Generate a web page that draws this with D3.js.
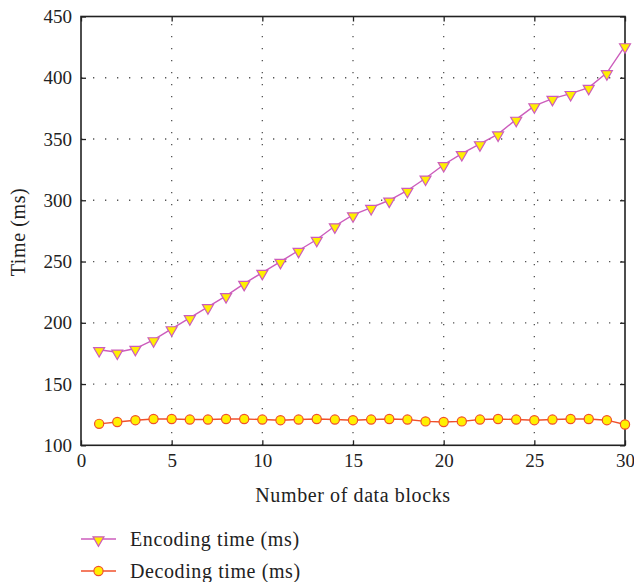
<!DOCTYPE html>
<html>
<head>
<meta charset="utf-8">
<script src="https://cdn.jsdelivr.net/npm/d3@7"></script>
<style>
  body { margin: 0; background: #fff; }
</style>
</head>
<body>
<div id="chart"></div>
<script>
const blocks = d3.range(1, 31);
const encodingTime = [178, 176, 179, 186, 195, 204, 213, 222, 232, 241,
                      250, 259, 268, 279, 288, 294, 300, 308, 318, 329,
                      338, 346, 354, 366, 377, 383, 387, 392, 404, 426];
const decodingTime = [117.5, 119, 120.5, 121.5, 121.5, 121, 121, 121.5, 121.5, 121,
                      120.5, 121, 121.5, 121, 120.5, 121, 121.5, 121, 119.5, 119,
                      119.5, 121, 121.5, 121, 120.5, 121, 121.5, 121.5, 120.5, 117];
const xTicks = [0, 5, 10, 15, 20, 25, 30];
const yTicks = [100, 150, 200, 250, 300, 350, 400, 450];

const width = 634, height = 582;
const plotLeft = 81, plotRight = 625, plotTop = 16.5, plotBottom = 445.3;
const serif = "'Liberation Serif', 'DejaVu Serif', serif";

const svg = d3.select("#chart").append("svg")
    .attr("width", width)
    .attr("height", height);

const x = d3.scaleLinear().domain([0, 30]).range([plotLeft, plotRight]);
const y = d3.scaleLinear().domain([100, 450]).range([plotBottom, plotTop]);

// dotted grid
const grid = svg.append("g").attr("stroke", "#555").attr("stroke-width", 1.3)
    .attr("stroke-dasharray", "1.3,10.7");
grid.selectAll(".gx").data(xTicks.slice(1, -1)).enter().append("line")
    .attr("x1", d => x(d)).attr("x2", d => x(d))
    .attr("y1", plotBottom).attr("y2", plotTop);
grid.selectAll(".gy").data(yTicks.slice(1, -1)).enter().append("line")
    .attr("y1", d => y(d)).attr("y2", d => y(d))
    .attr("x1", plotLeft).attr("x2", plotRight);

// axes with inward ticks
svg.append("g").attr("transform", `translate(0,${plotBottom})`)
    .call(d3.axisBottom(x).tickValues(xTicks).tickSizeInner(-5).tickSizeOuter(0).tickPadding(8))
    .call(g => g.select(".domain").remove());
svg.append("g").attr("transform", `translate(${plotLeft},0)`)
    .call(d3.axisLeft(y).tickValues(yTicks).tickSizeInner(-5).tickSizeOuter(0).tickPadding(9))
    .call(g => g.select(".domain").remove());
svg.append("g").attr("transform", `translate(0,${plotTop})`)
    .call(d3.axisTop(x).tickValues(xTicks).tickSizeInner(-5).tickSizeOuter(0).tickFormat(""))
    .call(g => g.select(".domain").remove());
svg.append("g").attr("transform", `translate(${plotRight},0)`)
    .call(d3.axisRight(y).tickValues(yTicks).tickSizeInner(-5).tickSizeOuter(0).tickFormat(""))
    .call(g => g.select(".domain").remove());
svg.selectAll(".tick line").attr("stroke", "#222").attr("stroke-width", 1.3);
svg.selectAll(".tick text")
    .style("font-family", serif).style("font-size", "19px").style("fill", "#222");

svg.append("rect")
    .attr("x", plotLeft).attr("y", plotTop)
    .attr("width", plotRight - plotLeft).attr("height", plotBottom - plotTop)
    .attr("fill", "none").attr("stroke", "#222").attr("stroke-width", 1.6);

// series
const encColor = "#cc5cbc", decColor = "#f0502c", markFill = "#fff000";
const tri = d3.symbol().type(d3.symbolTriangle).size(52);

const line = d3.line().x((d, i) => x(blocks[i])).y(d => y(d));

svg.append("path").datum(encodingTime)
    .attr("d", line).attr("fill", "none")
    .attr("stroke", encColor).attr("stroke-width", 1.4);
svg.selectAll(".enc").data(encodingTime).enter().append("path")
    .attr("d", tri)
    .attr("transform", (d, i) => `translate(${x(blocks[i])},${y(d) + 1}) rotate(180)`)
    .attr("fill", markFill).attr("stroke", encColor).attr("stroke-width", 1.2);

svg.append("path").datum(decodingTime)
    .attr("d", line).attr("fill", "none")
    .attr("stroke", decColor).attr("stroke-width", 1.4);
svg.selectAll(".dec").data(decodingTime).enter().append("circle")
    .attr("cx", (d, i) => x(blocks[i])).attr("cy", d => y(d)).attr("r", 4.6)
    .attr("fill", markFill).attr("stroke", decColor).attr("stroke-width", 1.2);

// axis titles
const titles = svg.append("g");
titles.append("text")
    .attr("x", 353).attr("y", 502)
    .attr("text-anchor", "middle")
    .text("Number of data blocks");
titles.append("text")
    .attr("transform", "translate(25,232) rotate(-90)")
    .attr("text-anchor", "middle")
    .text("Time (ms)");

// legend
const legend = [
    { name: "Encoding time (ms)", color: encColor, shape: "tri" },
    { name: "Decoding time (ms)", color: decColor, shape: "circle" }
];
const lg = svg.selectAll(".legend").data(legend).enter().append("g")
    .attr("transform", (d, i) => `translate(81,${539 + i * 32})`);
lg.append("line").attr("x1", 0).attr("x2", 35)
    .attr("stroke", d => d.color).attr("stroke-width", 1.4);
lg.each(function(d) {
    const g = d3.select(this);
    if (d.shape === "tri") {
        g.append("path").attr("d", tri)
            .attr("transform", "translate(17.5,1) rotate(180)")
            .attr("fill", markFill).attr("stroke", d.color).attr("stroke-width", 1.2);
    } else {
        g.append("circle").attr("cx", 17.5).attr("cy", 0).attr("r", 4.6)
            .attr("fill", markFill).attr("stroke", d.color).attr("stroke-width", 1.2);
    }
});
lg.append("text").attr("x", 49).attr("y", 0).attr("dy", "0.33em")
    .text(d => d.name);

svg.selectAll("g > text").filter(function() { return !this.parentNode.classList.contains("tick"); })
    .style("font-family", serif).style("font-size", "20px")
    .style("letter-spacing", "0.6px").style("fill", "#222");
</script>
</body>
</html>
